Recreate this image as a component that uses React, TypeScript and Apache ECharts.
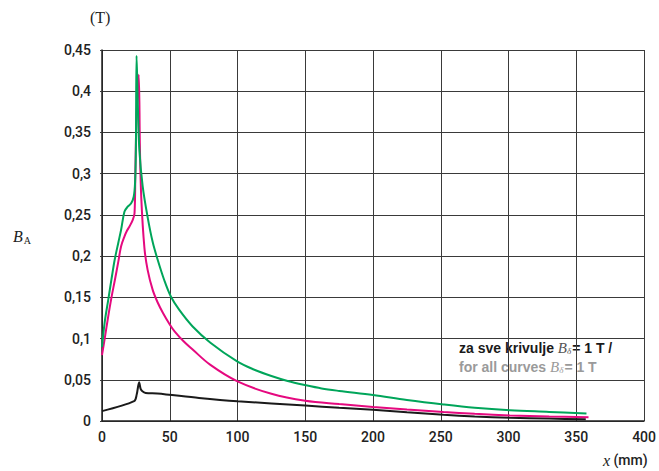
import React, { useEffect, useRef } from "react";
import * as echarts from "echarts";

const xTicks = [0, 50, 100, 150, 200, 250, 300, 350, 400];
const yTicks = [0, 0.05, 0.1, 0.15, 0.2, 0.25, 0.3, 0.35, 0.4, 0.45];

const greenX = [0, 2, 4.6, 7, 9.3, 12, 14.1, 16.6, 19, 21.5, 23.4, 24.4, 25, 25.5, 26.5, 27.6, 30, 33.7, 37.4, 41, 45.9, 50.8, 56.9, 66.7, 80, 100, 112, 125, 137, 150, 162, 175, 200, 225, 252, 275, 301, 330, 357.5];
const greenY = [0.09, 0.12, 0.147, 0.172, 0.195, 0.216, 0.232, 0.254, 0.26, 0.264, 0.272, 0.289, 0.33, 0.443, 0.38, 0.328, 0.285, 0.247, 0.217, 0.196, 0.171, 0.151, 0.135, 0.115, 0.095, 0.072, 0.0625, 0.0545, 0.0485, 0.0435, 0.0395, 0.0365, 0.0315, 0.0255, 0.02, 0.016, 0.013, 0.011, 0.009];

const pinkX = [0, 2, 4.6, 7, 9.5, 12, 14.1, 16.6, 18.5, 20.3, 22.7, 24, 24.6, 25.5, 27.1, 28, 29, 31.3, 33.7, 37.4, 41, 45, 50, 53.4, 60, 66.7, 80, 100, 125, 150, 175, 200, 225, 252, 275, 301, 330, 359];
const pinkY = [0.08, 0.1, 0.127, 0.15, 0.171, 0.193, 0.212, 0.224, 0.231, 0.236, 0.244, 0.252, 0.3, 0.37, 0.42, 0.33, 0.27, 0.21, 0.183, 0.159, 0.144, 0.131, 0.117, 0.109, 0.097, 0.087, 0.068, 0.048, 0.033, 0.0245, 0.0205, 0.017, 0.014, 0.011, 0.0087, 0.0068, 0.0055, 0.0046];

const blackX = [0, 23.7, 25.6, 27.4, 28.5, 29.8, 32.2, 40.8, 71.6, 100, 150, 175, 200, 225, 252, 275, 301, 330, 357];
const blackY = [0.012, 0.024, 0.032, 0.047, 0.039, 0.036, 0.034, 0.0333, 0.028, 0.024, 0.0188, 0.016, 0.0135, 0.0105, 0.0075, 0.0055, 0.004, 0.003, 0.002];

const pairs = (xs: number[], ys: number[]) => xs.map((x, i) => [x, ys[i]]);

const fmtY = (v: number) => parseFloat(v.toFixed(2)).toString().replace(".", ",");

export default function App() {
  const ref = useRef<HTMLDivElement>(null);
  useEffect(() => {
    if (!ref.current) return;
    const chart = echarts.init(ref.current, undefined, { renderer: "svg" });
    const labelFont = "Roboto, 'Liberation Sans', Arial, sans-serif";
    const gridColor = "#3a3a3a";
    chart.setOption({
      animation: false,
      backgroundColor: "#fff",
      grid: { left: 102, right: 11, top: 50, bottom: 50, containLabel: false },
      xAxis: {
        type: "value",
        min: xTicks[0],
        max: xTicks[xTicks.length - 1],
        interval: 50,
        axisLine: { show: true, lineStyle: { color: "#222", width: 1.5 } },
        axisTick: { show: false },
        axisLabel: { color: "#222", fontSize: 14, fontWeight: 500, fontFamily: labelFont, margin: 9 },
        splitLine: { show: true, lineStyle: { color: gridColor, width: 1 } },
      },
      yAxis: {
        type: "value",
        min: yTicks[0],
        max: yTicks[yTicks.length - 1],
        interval: 0.05,
        axisLine: { show: true, lineStyle: { color: "#222", width: 1.5 } },
        axisTick: { show: true, length: 2, lineStyle: { color: gridColor } },
        axisLabel: { color: "#222", fontSize: 14, fontWeight: 500, fontFamily: labelFont, margin: 11, formatter: (v: number) => fmtY(v) },
        splitLine: { show: true, lineStyle: { color: gridColor, width: 1 } },
      },
      series: [
        {
          type: "line",
          data: pairs(blackX, blackY),
          showSymbol: false,
          smooth: 0.3,
          lineStyle: { color: "#1a1a1a", width: 2 },
        },
        {
          type: "line",
          data: pairs(pinkX, pinkY),
          showSymbol: false,
          smooth: 0.35,
          lineStyle: { color: "#e5097f", width: 2 },
        },
        {
          type: "line",
          data: pairs(greenX, greenY),
          showSymbol: false,
          smooth: 0.35,
          lineStyle: { color: "#00a55a", width: 2 },
        },
      ],
      graphic: [
        {
          type: "text",
          left: 90,
          top: 9,
          style: { text: "(T)", font: "16px 'Liberation Serif', 'Times New Roman', serif", fill: "#222" },
        },
        {
          type: "text",
          left: 13,
          top: 228,
          style: {
            text: "{b|B}{s|A}",
            rich: {
              b: { font: "italic 16px 'Liberation Serif', serif", fill: "#222" },
              s: { font: "10px 'Liberation Serif', serif", fill: "#222", padding: [8, 0, 0, 1] },
            },
          },
        },
        {
          type: "text",
          left: 603,
          top: 452,
          style: {
            text: "{x|x} {m|(mm)}",
            rich: {
              x: { font: "italic 16px 'Liberation Serif', serif", fill: "#222" },
              m: { font: "500 14px Roboto, 'Liberation Sans', Arial, sans-serif", fill: "#222" },
            },
          },
        },
        {
          type: "text",
          left: 459,
          top: 340,
          style: {
            text: "{a|za sve krivulje }{b|B}{s|δ}{a|= 1 T /}",
            rich: {
              a: { font: "bold 14px 'Liberation Sans', Arial, sans-serif", fill: "#1a1a1a" },
              b: { font: "italic 15px 'Liberation Serif', serif", fill: "#555" },
              s: { font: "italic 9px 'Liberation Serif', serif", fill: "#555", padding: [7, 1, 0, 0] },
            },
          },
        },
        {
          type: "text",
          left: 459,
          top: 359,
          style: {
            text: "{a|for all curves }{b|B}{s|δ}{a|= 1 T}",
            rich: {
              a: { font: "bold 14px 'Liberation Sans', Arial, sans-serif", fill: "#9a9a9a" },
              b: { font: "italic 15px 'Liberation Serif', serif", fill: "#9a9a9a" },
              s: { font: "italic 9px 'Liberation Serif', serif", fill: "#9a9a9a", padding: [7, 1, 0, 0] },
            },
          },
        },
      ],
    });
    return () => chart.dispose();
  }, []);
  return <div ref={ref} style={{ width: 659, height: 471, position: "absolute", left: 0, top: 0 }} />;
}
